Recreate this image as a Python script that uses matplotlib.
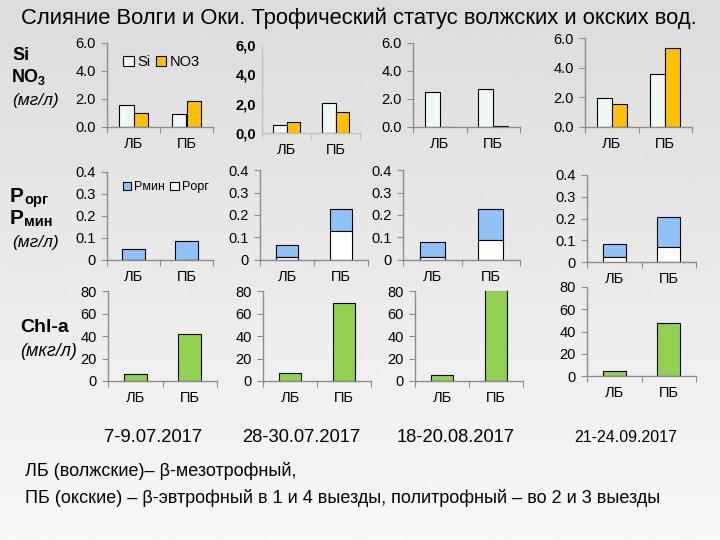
import numpy as np
import matplotlib
matplotlib.use("Agg")
import matplotlib.pyplot as plt
from matplotlib import font_manager

names = {f.name for f in font_manager.fontManager.ttflist}
NARROW = "Liberation Sans Narrow" if "Liberation Sans Narrow" in names else "Liberation Sans"
plt.rcParams["font.family"] = ["Liberation Sans", "DejaVu Sans"]

# data
dates = ["7-9.07.2017", "28-30.07.2017", "18-20.08.2017", "21-24.09.2017"]
banks = ["ЛБ", "ПБ"]
si = [[1.55, 0.91], [0.52, 2.03], [2.5, 2.75], [1.93, 3.58]]
no3 = [[0.98, 1.85], [0.75, 1.45], [0.0, 0.05], [1.52, 5.33]]
p_org = [[0.0, 0.0], [0.012, 0.13], [0.015, 0.09], [0.022, 0.07]]
p_min = [[0.048, 0.086], [0.053, 0.095], [0.063, 0.135], [0.06, 0.135]]
chl = [[5.9, 41.5], [6.8, 69.0], [5.3, 81.0], [4.2, 47.4]]

W, H = 720, 540
fig = plt.figure(figsize=(7.2, 5.4), dpi=100)

# background gradient
bg = fig.add_axes([0, 0, 1, 1], zorder=-10)
grad = np.linspace(0.86, 0.97, 256).reshape(-1, 1)
bg.imshow(grad, cmap="gray", vmin=0, vmax=1, aspect="auto", extent=[0, 1, 0, 1])
bg.axis("off")


def px_axes(x0, x1, ybot, ytop):
    return fig.add_axes([x0 / W, 1 - ybot / H, (x1 - x0) / W, (ybot - ytop) / H])


def style(ax, ymax, ticks, fmt, spine="#8c8c8c", weight="normal"):
    ax.set_facecolor("none")
    for s in ["top", "right"]:
        ax.spines[s].set_visible(False)
    for s in ["left", "bottom"]:
        ax.spines[s].set_color(spine)
        ax.spines[s].set_linewidth(1.0)
    ax.set_xlim(0, 2)
    ax.set_ylim(0, ymax)
    ax.set_yticks(ticks)
    ax.set_yticklabels([fmt(t) for t in ticks], fontsize=10.5, weight=weight)
    ax.tick_params(axis="y", direction="out", length=4, color=spine, pad=4)
    ax.set_xticks([0, 1, 2])
    ax.set_xticklabels([])
    ax.tick_params(axis="x", which="major", direction="out", length=4, color=spine)
    ax.set_xticks([0.5, 1.5], minor=True)
    ax.set_xticklabels(banks, minor=True, fontsize=10.5)
    ax.tick_params(axis="x", which="minor", length=0, pad=7)


x = np.array([0.5, 1.5])

row1 = [(107, 213, 127, 43), (262, 360, 133, 45), (413, 520, 127, 43), (585, 692, 127, 38)]
row2 = [(107, 213, 260, 172), (260, 368, 260, 170), (403, 520, 260, 170), (587, 696, 262, 175)]
row3 = [(108, 217, 381, 291), (263, 371, 381, 291), (415, 523, 381, 291), (587, 696, 376, 287)]

leg_kw = dict(ncol=2, frameon=False, loc="upper left", handlelength=0.7,
              handleheight=0.7, handletextpad=0.25, columnspacing=0.4, borderaxespad=0)

for i in range(4):
    # Si / NO3
    ax = px_axes(*row1[i])
    bw = 0.28
    ax.bar(x - bw / 2, si[i], bw, color="#eef8f6", edgecolor="black", lw=0.8, label="Si")
    ax.bar(x + bw / 2, no3[i], bw, color="#ffc000", edgecolor="black", lw=0.8, label="NO3")
    if i == 1:
        style(ax, 6, [0, 2, 4, 6], lambda t: f"{t:.1f}".replace(".", ","),
              spine="#c0c0c0", weight="bold")
        ax.tick_params(axis="y", length=0)
    else:
        style(ax, 6, [0, 2, 4, 6], lambda t: f"{t:.1f}")
    if i == 0:
        ax.legend(bbox_to_anchor=(0.1, 0.93), fontsize=10.5, **leg_kw)

    # P
    ax = px_axes(*row2[i])
    bw = 0.42
    ax.bar(x, p_min[i], bw, bottom=p_org[i], color="#8fc3f7", edgecolor="black", lw=0.8, label="Pмин")
    ax.bar(x, p_org[i], bw, color="white", edgecolor="black", lw=0.8, label="Pорг")
    style(ax, 0.4, [0, 0.1, 0.2, 0.3, 0.4], lambda t: "0" if t == 0 else f"{t:.1f}")
    if i == 0:
        ax.legend(bbox_to_anchor=(0.1, 0.95), fontsize=9, **leg_kw)

    # Chl-a
    ax = px_axes(*row3[i])
    ax.bar(x, chl[i], bw, color="#92d050", edgecolor="black", lw=0.8)
    style(ax, 80, [0, 20, 40, 60, 80], lambda t: f"{t:.0f}")

# dates
date_x = [153, 301, 456, 626]
for dx, d in zip(date_x, dates):
    fig.text(dx / W, 1 - 438 / H, d, ha="center", va="center",
             fontsize=13.2 if dx < 600 else 11.5, family=NARROW)

# title
fig.text(359 / W, 1 - 18 / H, "Слияние Волги и Оки. Трофический статус волжских и окских вод.",
         ha="center", va="center", fontsize=15.8, family=NARROW)


# row labels
def t(xp, yp, s, **kw):
    fig.text(xp / W, 1 - yp / H, s, va="center", ha="left", **kw)


t(12, 55, "Si", fontsize=13, weight="bold")
t(12, 77, "NO", fontsize=13, weight="bold")
t(38, 82, "3", fontsize=9, weight="bold")
t(12, 101, "(мг/л)", fontsize=12.5, style="italic")

t(10, 196, "P", fontsize=15, weight="bold")
t(24, 200, "орг", fontsize=10.5, weight="bold")
t(10, 218, "P", fontsize=15, weight="bold")
t(24, 222, "мин", fontsize=10.5, weight="bold")
t(12, 242, "(мг/л)", fontsize=12.5, style="italic")

t(20, 327, "Chl-a", fontsize=14, weight="bold")
t(20, 352, "(мкг/л)", fontsize=13, style="italic")

# bottom notes
t(25, 471, "ЛБ (волжские)– β-мезотрофный,", fontsize=13, family=NARROW)
t(25, 498, "ПБ (окские) – β-эвтрофный в 1 и 4 выезды, политрофный – во 2 и 3 выезды",
  fontsize=13, family=NARROW)

fig.savefig("out.png", dpi=100)
